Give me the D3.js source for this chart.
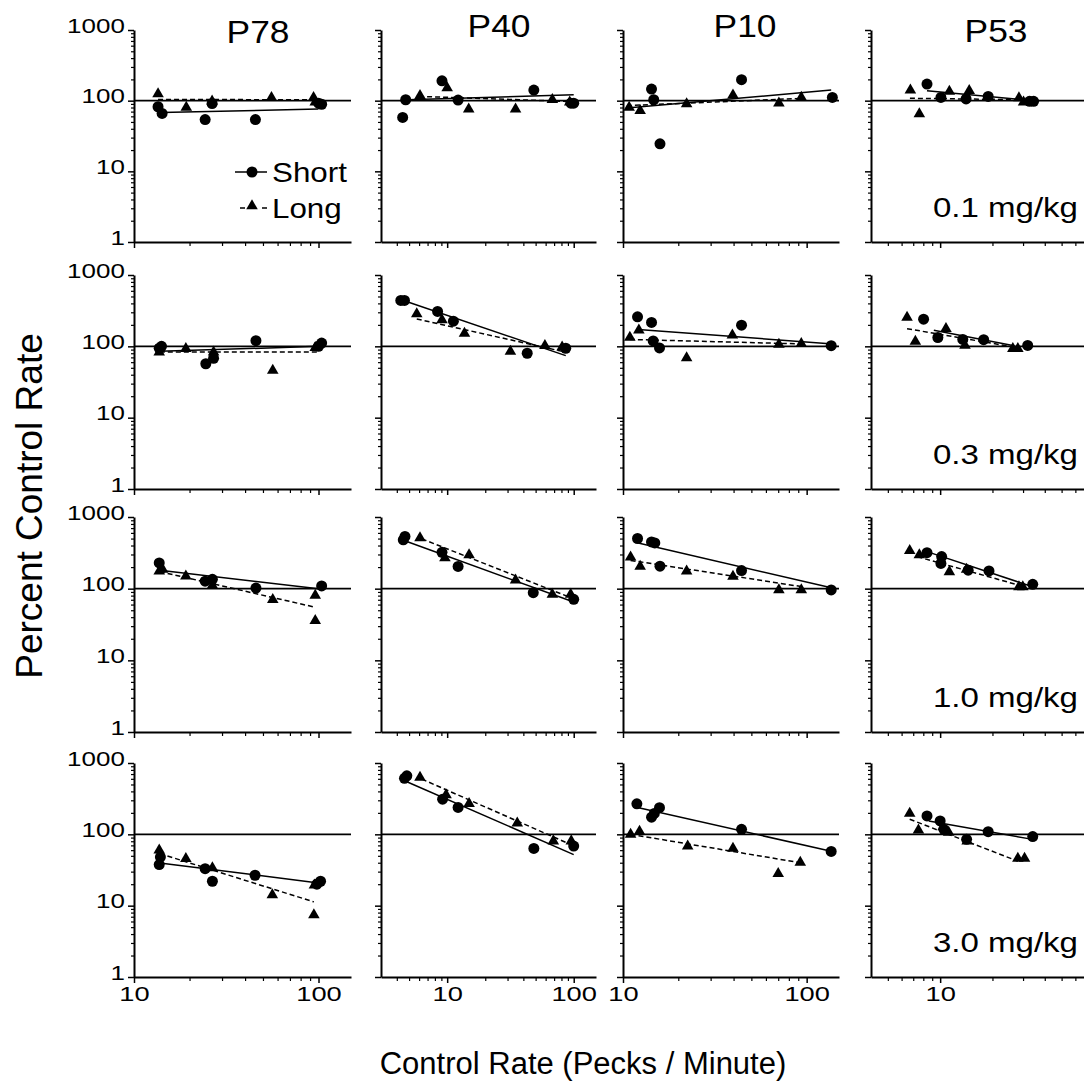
<!DOCTYPE html>
<meta charset="utf-8">
<script src="https://d3js.org/d3.v7.min.js"></script>
<style>
  body { margin: 0; background: #fff; }
  text { font-family: "Liberation Sans", Arial, sans-serif; fill: #000; }
</style>
<body>
<div id="my_dataviz"></div>
<script>
// categories / labels
var patients = ["P78", "P40", "P10", "P53"];
var doses = ["0.1 mg/kg", "0.3 mg/kg", "1.0 mg/kg", "3.0 mg/kg"];
var xDomains = [[10, 150], [3, 150], [10, 150], [4, 70]];
var yDomain = [1, 1000];
var yMajor = [1, 10, 100, 1000];
var xMajor = [1, 10, 100];
var refLevel = 100;
var legendLabels = ["Short", "Long"];

// [control rate, percent control rate] per patient (P78, P40, P10, P53)
var short01 = [
  [[13.5, 82], [14.2, 66], [24.3, 54], [26.5, 91], [45.5, 54], [100, 92], [104, 89]],
  [[4.7, 103], [4.45, 58], [9.1, 191], [12.2, 102], [48.4, 141], [95, 92], [100, 92]],
  [[14.3, 146], [14.7, 103], [15.9, 24.5], [44.2, 198], [138, 111]],
  [[8.4, 172], [10.1, 111], [14.1, 106], [18.9, 115], [32.7, 98], [34.5, 98]]
];
var long01 = [
  [[13.5, 125], [19.2, 80], [26.5, 98], [55.6, 110], [94, 110], [96, 95]],
  [[6.1, 118], [10, 151], [14.8, 76], [34.7, 76], [67.8, 103], [93, 95]],
  [[10.8, 80], [12.4, 72], [22.2, 90], [39.7, 120], [70.6, 92], [93.5, 111]],
  [[6.74, 141], [7.59, 65], [11.3, 135], [14.7, 138], [28.4, 109], [30.2, 95]]
];
var shortFit01 = [[[14, 68], [100, 76]], [[4.8, 103], [100, 121]], [[10.5, 79], [136, 141]], [[8.4, 138], [34, 100]]];
var longFit01 = [[[13.5, 104], [100, 103]], [[6, 115], [100, 97]], [[10.5, 85], [95, 108]], [[6.7, 108], [31, 103]]];

var short03 = [
  [[14.1, 100], [13.7, 94], [24.5, 57], [27, 68], [45.8, 120], [100, 100], [104, 111]],
  [[4.3, 440], [4.6, 440], [8.4, 308], [11.2, 225], [42.9, 80], [86.5, 94]],
  [[12, 259], [14.3, 216], [14.6, 119], [15.8, 95], [44.2, 198], [136, 102]],
  [[8.03, 240], [9.7, 133], [13.5, 125], [17.8, 124], [31.9, 103]]
];
var long03 = [
  [[13.7, 83], [19.1, 93], [27, 83], [56.5, 46], [96, 96]],
  [[5.75, 285], [9.1, 235], [13.7, 152], [31.6, 85], [59.2, 102], [81, 97]],
  [[10.9, 133], [12.2, 168], [22.2, 69], [39.4, 143], [70.6, 106], [93.5, 109]],
  [[6.45, 254], [7.2, 117], [10.8, 177], [13.9, 103], [26.2, 93], [28, 93]]
];
var shortFit03 = [[[13.8, 85], [101, 100]], [[4.4, 445], [86.5, 74]], [[12.1, 172], [139, 108]], [[9.2, 168], [26.2, 103]]];
var longFit03 = [[[13.8, 83], [100, 83]], [[5.75, 242], [83.5, 84]], [[10.9, 125], [95, 108]], [[6.45, 177], [25.1, 100]]];

var short10 = [
  [[13.7, 229], [24.3, 127], [26.6, 135], [45.8, 102], [104, 109]],
  [[4.64, 535], [4.5, 480], [9.1, 321], [12.2, 204], [47.9, 88], [100, 71]],
  [[12, 501], [14.3, 449], [14.9, 435], [15.9, 206], [44.2, 179], [136, 96]],
  [[8.4, 318], [10.2, 280], [10.1, 225], [14.5, 181], [19.1, 177], [34.1, 115]]
];
var long10 = [
  [[13.7, 175], [14.3, 185], [19.1, 149], [26.6, 111], [56.5, 70], [96, 80.5], [96, 35.8]],
  [[6.1, 512], [9.6, 268], [14.9, 295], [34.7, 131], [67.8, 83], [94.6, 83]],
  [[11, 276], [12.4, 204], [22.2, 175], [39.7, 148], [70.6, 96], [93.5, 96]],
  [[6.68, 340], [7.59, 295], [11.3, 172], [14.2, 185], [28.4, 106], [29.9, 106]]
];
var shortFit10 = [[[13.8, 181], [100, 100]], [[4.8, 454], [100, 65]], [[12.1, 435], [138, 102]], [[8.4, 329], [33.4, 108]]];
var longFit10 = [[[13.8, 173], [96, 55]], [[6.3, 496], [94.6, 75]], [[11, 248], [93.5, 107]], [[7.4, 279], [28.7, 111]]];

var short30 = [
  [[13.7, 37.7], [13.9, 48], [24.3, 33], [26.6, 22], [45.3, 26.7], [102.6, 22], [98, 20]],
  [[4.6, 609], [4.8, 662], [9.2, 311], [12.2, 238], [48.4, 63.5], [100, 68.5]],
  [[11.9, 268], [14.3, 174], [14.8, 196], [15.8, 236], [44.2, 117.6], [136, 57.6]],
  [[8.4, 181], [10, 154], [10.5, 117.6], [14.2, 85], [18.9, 109], [34.1, 93]]
];
var long30 = [
  [[13.7, 60], [19.1, 45.7], [26.6, 33.8], [56.2, 14.1], [94.4, 7.4], [95, 19.4]],
  [[6.1, 628], [9.8, 358], [14.9, 270], [35.8, 143], [69, 80.5], [95.6, 80.5]],
  [[11, 100], [12.3, 110], [22.5, 68], [39.7, 63.6], [70, 28], [92.3, 40.5]],
  [[6.68, 196], [7.5, 114], [10.4, 127], [11.2, 106], [14.3, 80.5], [28, 46], [30.6, 46]]
];
var shortFit30 = [[[13.8, 39.7], [100, 20.8]], [[4.8, 546], [100, 52]], [[12, 237], [136, 58]], [[8.6, 154], [34.1, 85]]];
var longFit30 = [[[13.8, 53.7], [94.4, 11.3]], [[6.3, 595], [94.6, 72]], [[11, 100], [92.3, 40]], [[6.68, 163], [28, 42]]];

var rows = [
  {short: short01, long: long01, shortFit: shortFit01, longFit: longFit01},
  {short: short03, long: long03, shortFit: shortFit03, longFit: longFit03},
  {short: short10, long: long10, shortFit: shortFit10, longFit: longFit10},
  {short: short30, long: long30, shortFit: shortFit30, longFit: longFit30}
];

// layout
var W = 1084, H = 1089;
var colLeft = [134, 381, 623, 871], colRight = [351, 596, 839, 1087];
var rowTop = [30, 275, 517, 763], rowBottom = [242, 489, 732, 977];
var titleX = [258, 499, 745, 996], titleY = [43, 37, 37, 42];

var svg = d3.select("#my_dataviz")
  .append("svg")
    .attr("width", W)
    .attr("height", H);

function minorTicks(domain) {
  var out = [];
  for (var e = -1; e < 4; e++) {
    for (var m = 2; m < 10; m++) {
      var v = m * Math.pow(10, e);
      if (v > domain[0] * 1.0001 && v < domain[1] * 0.9999) out.push(v);
    }
  }
  return out;
}
function inDomain(vals, domain) {
  return vals.filter(function (v) { return v >= domain[0] * 0.9999 && v <= domain[1] * 1.0001; });
}

var tri = d3.symbol().type(d3.symbolTriangle).size(58);

rows.forEach(function (r, ri) {
  patients.forEach(function (p, ci) {
    var x = d3.scaleLog().domain(xDomains[ci]).range([colLeft[ci], colRight[ci]]);
    var y = d3.scaleLog().domain(yDomain).range([rowBottom[ri], rowTop[ri]]);
    var g = svg.append("g");

    // reference line at 100%
    g.append("line")
      .attr("x1", colLeft[ci]).attr("x2", colRight[ci])
      .attr("y1", y(refLevel)).attr("y2", y(refLevel))
      .attr("stroke", "#000").attr("stroke-width", 1.6);

    // y axis: minor then major
    g.append("g")
      .attr("transform", "translate(" + colLeft[ci] + ",0)")
      .call(d3.axisLeft(y).tickValues(minorTicks(yDomain)).tickSize(3).tickSizeOuter(0).tickFormat(""))
      .call(function (a) { a.select(".domain").remove(); a.selectAll("line").attr("stroke-width", 1.2); });
    var ya = g.append("g")
      .attr("transform", "translate(" + colLeft[ci] + ",0)")
      .call(d3.axisLeft(y).tickValues(yMajor).tickSize(6).tickSizeOuter(0).tickPadding(3)
        .tickFormat(ci === 0 ? d3.format("d") : ""));
    ya.select(".domain").attr("stroke-width", 2);
    ya.selectAll("line").attr("stroke-width", 1.5);
    ya.selectAll("text")
      .attr("font-size", 20)
      .attr("x", -7)
      .attr("dy", "0.1em")
      .attr("transform", "scale(1.3,1)");

    // x axis: minor then major
    var xd = xDomains[ci];
    g.append("g")
      .attr("transform", "translate(0," + rowBottom[ri] + ")")
      .call(d3.axisBottom(x).tickValues(minorTicks(xd)).tickSize(4).tickSizeOuter(0).tickFormat(""))
      .call(function (a) { a.select(".domain").remove(); a.selectAll("line").attr("stroke-width", 1.2); });
    var xa = g.append("g")
      .attr("transform", "translate(0," + rowBottom[ri] + ")")
      .call(d3.axisBottom(x).tickValues(inDomain(xMajor, xd)).tickSize(6).tickSizeOuter(0)
        .tickFormat(ri === 3 ? d3.format("d") : ""));
    xa.select(".domain").attr("stroke-width", 2);
    xa.selectAll("line").attr("stroke-width", 1.5);
    xa.selectAll("text")
      .attr("font-size", 21)
      .attr("y", 9)
      .attr("transform", "scale(1.3,1)");

    // fit lines
    var line = d3.line().x(function (d) { return x(d[0]); }).y(function (d) { return y(d[1]); });
    g.append("path")
      .datum(r.shortFit[ci])
      .attr("fill", "none").attr("stroke", "#000").attr("stroke-width", 1.5)
      .attr("d", line);
    g.append("path")
      .datum(r.longFit[ci])
      .attr("fill", "none").attr("stroke", "#000").attr("stroke-width", 1.5)
      .attr("stroke-dasharray", "5,3")
      .attr("d", line);

    // points
    g.append("g").selectAll("path")
      .data(r.long[ci]).enter().append("path")
        .attr("d", tri)
        .attr("transform", function (d) { return "translate(" + x(d[0]) + "," + y(d[1]) + ")"; })
        .attr("fill", "#000");
    g.append("g").selectAll("circle")
      .data(r.short[ci]).enter().append("circle")
        .attr("cx", function (d) { return x(d[0]); })
        .attr("cy", function (d) { return y(d[1]); })
        .attr("r", 5.5)
        .attr("fill", "#000");

    // column titles
    if (ri === 0) {
      svg.append("text")
        .attr("transform", "translate(" + titleX[ci] + "," + titleY[ci] + ") scale(1.14,1)")
        .attr("text-anchor", "middle")
        .attr("font-size", 31)
        .text(p);
    }
    // dose label
    if (ci === 3) {
      svg.append("text")
        .attr("transform", "translate(1078," + (rowBottom[ri] - 25) + ") scale(1.18,1)")
        .attr("text-anchor", "end")
        .attr("font-size", 28)
        .text(doses[ri]);
    }
  });
});

// legend (inside P78, 0.1 mg/kg)
var lg = svg.append("g");
lg.append("line").attr("x1", 235).attr("x2", 267).attr("y1", 172).attr("y2", 172)
  .attr("stroke", "#000").attr("stroke-width", 1.5);
lg.append("circle").attr("cx", 252).attr("cy", 172).attr("r", 5.5).attr("fill", "#000");
lg.append("line").attr("x1", 240).attr("x2", 268).attr("y1", 208).attr("y2", 208)
  .attr("stroke", "#000").attr("stroke-width", 1.5).attr("stroke-dasharray", "5,6");
lg.append("path").attr("d", tri).attr("transform", "translate(252,206)").attr("fill", "#000");
legendLabels.forEach(function (l, i) {
  lg.append("text")
    .attr("transform", "translate(272," + (182 + i * 36) + ") scale(1.12,1)")
    .attr("font-size", 28)
    .text(l);
});

// axis titles
svg.append("text")
  .attr("transform", "translate(42,506) rotate(-90)")
  .attr("text-anchor", "middle")
  .attr("font-size", 37)
  .text("Percent Control Rate");
svg.append("text")
  .attr("transform", "translate(583,1074)")
  .attr("text-anchor", "middle")
  .attr("font-size", 31)
  .text("Control Rate (Pecks / Minute)");
</script>
